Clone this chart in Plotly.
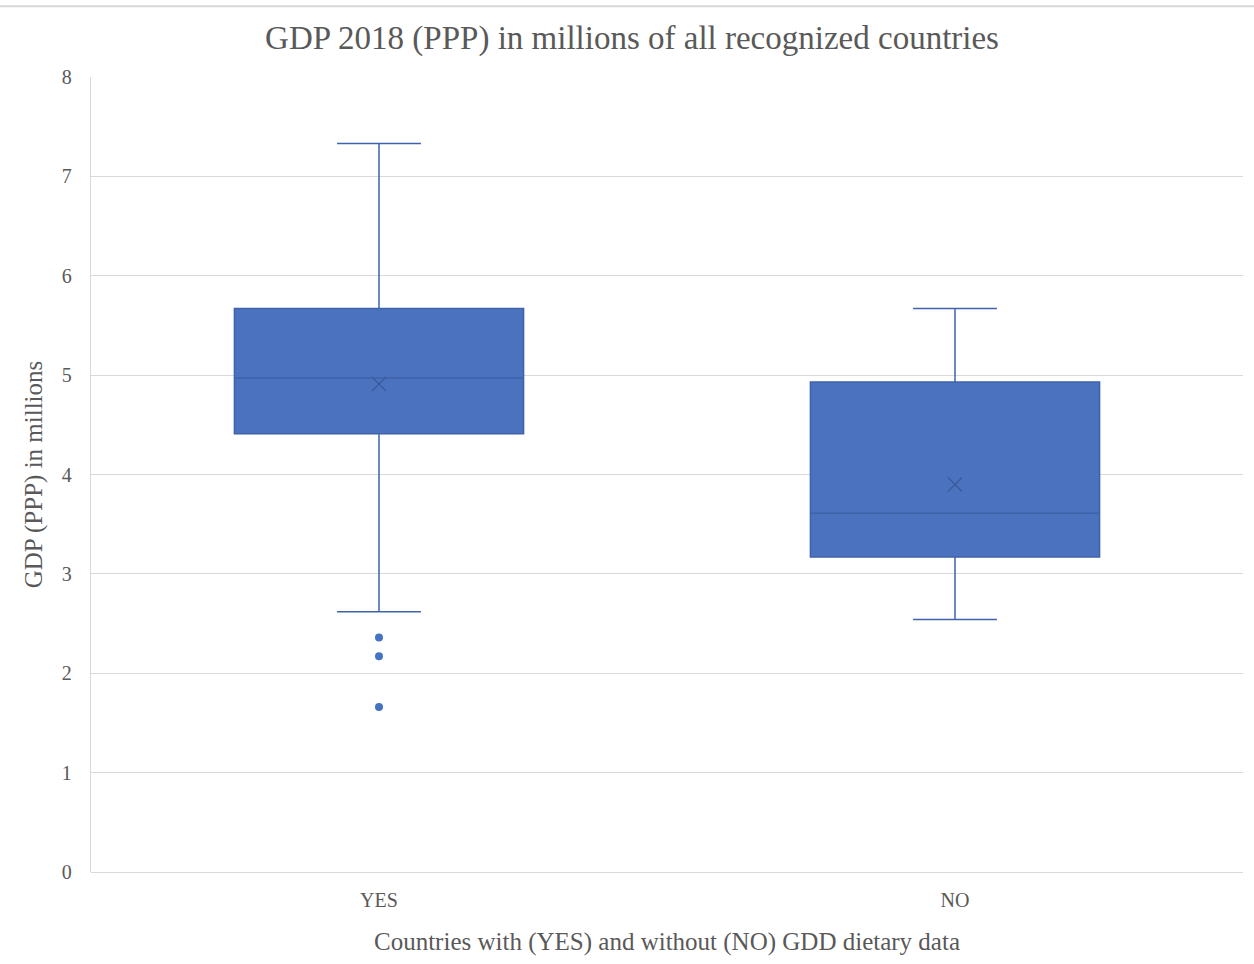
import plotly.graph_objects as go

categories = ["YES", "NO"]
q1 = [4.41, 3.17]
median = [4.97, 3.61]
q3 = [5.67, 4.93]
lower_whisker = [2.62, 2.54]
upper_whisker = [7.33, 5.67]
means = [4.91, 3.90]
outlier_cat = ["YES", "YES", "YES"]
outlier_vals = [2.36, 2.17, 1.66]

FONT = "Liberation Serif, Times New Roman, serif"
BLUE_FILL = "#4A72BE"
BLUE_LINE = "#3F63AA"

fig = go.Figure()
fig.add_trace(go.Box(
    x=categories, q1=q1, median=median, q3=q3,
    lowerfence=lower_whisker, upperfence=upper_whisker,
    width=0.502,
    fillcolor=BLUE_FILL, line=dict(color=BLUE_LINE, width=1.5),
    whiskerwidth=0.29, boxpoints=False, showlegend=False, hoverinfo="y",
))
fig.add_trace(go.Scatter(
    x=categories, y=means, mode="markers",
    marker=dict(symbol="x-thin", size=14, line=dict(color="#3A5A9C", width=1.3)),
    showlegend=False,
))
fig.add_trace(go.Scatter(
    x=outlier_cat, y=outlier_vals, mode="markers",
    marker=dict(symbol="circle", size=8, color="#4472C4"),
    showlegend=False,
))

fig.add_shape(type="line", xref="paper", yref="paper", x0=-0.08, x1=1.01,
              y0=1.089, y1=1.089, line=dict(color="#D6D6D6", width=2))

fig.update_layout(
    width=1254, height=964,
    margin=dict(l=91, r=11, t=77, b=92),
    paper_bgcolor="white", plot_bgcolor="white",
    title=dict(text="GDP 2018 (PPP) in millions of all recognized countries",
               x=0.504, xanchor="center", y=0.961, yanchor="middle",
               font=dict(family=FONT, size=33, color="#595959")),
    font=dict(family=FONT, color="#595959"),
    xaxis=dict(
        type="category", categoryorder="array", categoryarray=categories,
        range=[-0.5, 1.5],
        showgrid=False, showline=False, zeroline=False,
        ticks="", tickfont=dict(size=20, color="#595959"), ticklabelstandoff=14,
        title=dict(text="Countries with (YES) and without (NO) GDD dietary data",
                   font=dict(size=25, color="#595959"), standoff=22),
    ),
    yaxis=dict(
        range=[0, 8], dtick=1, tick0=0,
        showgrid=True, gridcolor="#D9D9D9", gridwidth=1.3,
        showline=True, linecolor="#D9D9D9", linewidth=1.3,
        zeroline=True, zerolinecolor="#D9D9D9", zerolinewidth=1.3,
        ticks="", tickfont=dict(size=20, color="#595959"), ticklabelstandoff=14,
        title=dict(text="GDP (PPP) in millions",
                   font=dict(size=25, color="#595959"), standoff=12),
    ),
)

fig.write_html("out.html")
